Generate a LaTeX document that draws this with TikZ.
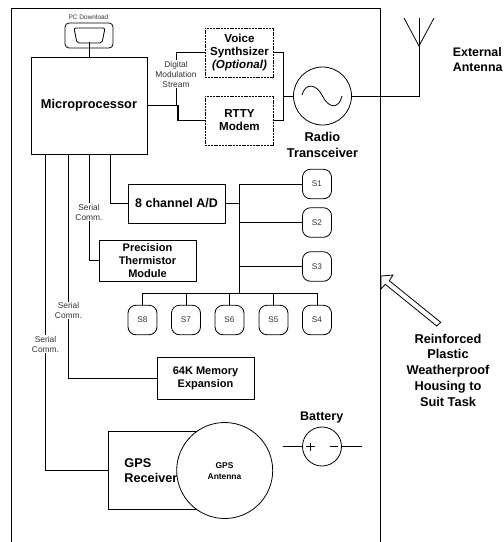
\documentclass[tikz,border=0pt]{standalone}
\usepackage{fontspec}
\setmainfont{Liberation Sans}
\newcommand{\px}[2]{\fontsize{#1}{#2}\selectfont}
\begin{document}
\begin{tikzpicture}[x=1pt, y=-1pt, line width=0.8pt,
  box/.style={draw=black, inner sep=0pt, outer sep=0pt, align=center, font=\px{11}{13}\bfseries},
  opt/.style={box, line width=1pt, dash pattern=on 2pt off 0.8pt, font=\px{11.6}{13}\bfseries},
  sens/.style={draw=black, rounded corners=8pt, inner sep=0pt, outer sep=0pt, minimum width=29pt, minimum height=29.5pt, text=black!80, font=\px{8.2}{10}},
  ring/.style={draw=black, fill=white, circle, inner sep=0pt, outer sep=0pt},
  lbl/.style={fill=white, inner sep=0.5pt, align=center, text=black!80, font=\px{8.4}{10}},
  title/.style={align=center, inner sep=0pt, font=\px{12.8}{15.8}\bfseries}]
\useasboundingbox (0,0) rectangle (504,542);
% housing, open at the bottom
\draw (11,542) -- (11,8) -- (380,8) -- (380,542);
% PC connector
\node[draw=black, rounded corners=4pt, inner sep=0pt, outer sep=0pt, minimum width=48pt, minimum height=25pt] (pc) at (89,35.5) {};
\node[inner sep=0pt, text=black!80, font=\px{6.5}{8}] (pclabel) at (88.5,17.5) {PC Download};
\draw[rounded corners=2pt] (74,28) -- (105,28) -- (102,43) -- (77,43) -- cycle;
% main boxes
\node[box, minimum width=116pt, minimum height=97pt, font=\px{12.8}{15}\bfseries] (micro) at (89,105.5) {Microprocessor};
\node[opt, minimum width=68.5pt, minimum height=49pt] (voice) at (239.5,52.5) {Voice\\Synthsizer\\\textit{(Optional)}};
\node[opt, minimum width=68.5pt, minimum height=49pt] (rtty) at (239.5,120.5) {RTTY\\Modem};
\node[box, minimum width=97pt, minimum height=39pt, font=\px{12.5}{15}\bfseries] (ad) at (176.5,203.5) {8 channel A/D};
\node[box, minimum width=97pt, minimum height=41pt] (therm) at (147.5,260.5) {Precision\\Thermistor\\Module};
\node[box, minimum width=97pt, minimum height=42pt] (mem) at (205.5,378) {64K Memory\\Expansion};
\node[box, minimum width=92pt, minimum height=77.5pt] (gps) at (154,470.5) {};
% radio and sine
\node[ring, minimum size=58pt] (radio) at (322.5,96) {};
\draw (302,95) .. controls (305,83) and (316,83) .. (322.5,96) .. controls (329,109) and (339,109) .. (342,96);
% sensors
\foreach \name/\x/\y/\txt in {s1/317/184/S1, s2/317/222.5/S2, s3/317/266.5/S3, s4/317/320/S4, s5/273.5/320/S5, s6/229.5/320/S6, s7/186/320/S7, s8/142.5/320/S8}
  \node[sens] (\name) at (\x,\y) {\txt};
% free ends
\coordinate (mix) at (283,96);
\coordinate (join) at (178,105.5);
\coordinate (foot) at (419,46);
\coordinate (busend) at (239.5,293.5);
\coordinate (tapad) at (110,154);
\coordinate (tapth) at (89,154);
\coordinate (tapmem) at (68.5,154);
\coordinate (tapgps) at (45.5,154);
% connectors
\draw (pc.south) ++(0,-6) -- (micro.north);
\draw (voice.east) -| (mix);
\draw (rtty.east) -| (mix);
\draw (mix) -- (radio.west);
\draw[line width=1.2pt] (micro.east) -- (join) |- (rtty.west);
\draw (radio.east) -| (foot);
\draw (tapad) |- (ad.west);
\draw (tapth) |- (therm.west);
\draw (tapmem) |- (mem.west);
\draw (tapgps) |- (gps.west);
\draw (ad.east) -- (ad.east -| busend);
\draw (s1.west) -| (busend);
\draw (s2.west) -- (s2.west -| busend);
\draw (s3.west) -- (s3.west -| busend);
\draw (s8.north) |- (busend);
\draw (s4.north) |- (busend);
\foreach \name in {s5,s6,s7}{\draw (\name.north) -- (\name.north |- busend);}
% antenna
\draw (foot) -- (419,18);
\draw (404,18) -- (foot) -- (434,18);
% labels on the lines
\node[lbl] (dms) at (176,74) {Digital\\Modulation\\Stream};
\draw (voice.west) -| (dms.north);
\draw (dms.south) -- (dms.south |- micro.east);
\node[lbl] (sc1) at (89,212) {Serial\\Comm.};
\node[lbl] (sc2) at (68.5,310.5) {Serial\\Comm.};
\node[lbl] (sc3) at (45.5,344) {Serial\\Comm.};
% GPS
\node[ring, minimum size=96pt] (gpsant) at (224.7,470.5) {};
\node[inner sep=0pt, align=center, font=\px{8.4}{11}\bfseries] (gpsantlabel) at (224.5,471) {GPS\\Antenna};
\node[anchor=west, inner sep=0pt, align=left, font=\px{12.7}{15.5}\bfseries] (gpslabel) at (124,470.5) {GPS\\Receiver};
% battery
\node[ring, minimum size=39pt] (batt) at (322,446.5) {};
\coordinate (battl) at (283,446.5);
\coordinate (battr) at (361.5,446.5);
\draw (battl) -- (batt.west);
\draw (batt.east) -- (battr);
\draw (306,446.5) -- (314.5,446.5);
\draw (310.3,442.5) -- (310.3,450.5);
\draw (329.5,446.5) -- (338,446.5);
\node[inner sep=0pt, font=\px{12.5}{15}\bfseries] (battlabel) at (321.7,417.7) {Battery};
% captions
\node[title] (radiolabel) at (322.5,145) {Radio\\Transceiver};
\node[title, align=left, anchor=west, font=\px{12.4}{15.4}\bfseries] (extlabel) at (452.5,59.5) {External\\Antenna};
\node[title] (houselabel) at (448,370.2) {Reinforced\\Plastic\\Weatherproof\\Housing to\\Suit Task};
% hollow arrow to the housing
\draw (381,276) -- (393,275) -- (389.3,280.7) -- (440.7,322.3) -- (436.7,326) -- (385.3,284.3) -- (381,289) -- cycle;
\end{tikzpicture}
\end{document}
